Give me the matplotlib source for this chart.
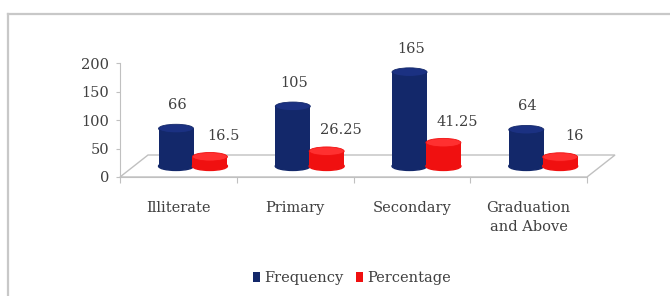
import matplotlib.pyplot as plt
from matplotlib.patches import Ellipse, Polygon, Patch
from matplotlib.lines import Line2D

categories = ["Illiterate", "Primary", "Secondary", "Graduation\nand Above"]
frequency = [66, 105, 165, 64]
percentage = [16.5, 26.25, 41.25, 16]
series_names = ["Frequency", "Percentage"]
yticks = [0, 50, 100, 150, 200]

navy = "#13286a"
navy_top = "#1b3182"
red = "#f01010"
red_top = "#ff3030"
text_col = "#404040"
grid_col = "#c0c0c0"

plt.rcParams["font.family"] = "DejaVu Serif"
plt.rcParams["font.size"] = 10.5

fig = plt.figure(figsize=(6.7, 2.96), dpi=100)
ax = fig.add_axes([120 / 670, 1 - 177 / 296, 467 / 670, 114 / 296])

# chart border (top and left only are visible in the reference)
fig.add_artist(Line2D([8 / 670, 1], [1 - 14 / 296] * 2, color="#c8c8c8", lw=1.6))
fig.add_artist(Line2D([8 / 670] * 2, [0, 1 - 14 / 296], color="#c8c8c8", lw=1.6))

# 3d-ish floor
depth_x = 0.24
depth_y = 38.6
floor = Polygon([(-0.5, 0), (3.5, 0), (3.5 + depth_x, depth_y), (-0.5 + depth_x, depth_y)],
                closed=True, facecolor="white", edgecolor=grid_col, lw=1.0,
                clip_on=False, zorder=1)
ax.add_patch(floor)

base = 19
bw = 0.30
cap_h = 15


def cylinder(x, value, color, top_color, z):
    ax.add_patch(Ellipse((x, base), bw, cap_h, color=color, zorder=z))
    ax.bar(x, value, width=bw, bottom=base, color=color, zorder=z)
    ax.add_patch(Ellipse((x, base + value), bw, cap_h, facecolor=top_color,
                         edgecolor=color, lw=0.6, zorder=z))


for i, v in enumerate(frequency):
    cylinder(i - 0.02, v, navy, navy_top, 3)
    ax.annotate(f"{v:g}", (i - 0.02, base + v), xytext=(1, 17), textcoords="offset points",
                ha="center", va="center", color=text_col)

for i, v in enumerate(percentage):
    cylinder(i + 0.27, v, red, red_top, 4)
    ax.annotate(f"{v:g}", (i + 0.27, base + v), xytext=(10, 15), textcoords="offset points",
                ha="center", va="center", color=text_col)

ax.set_xlim(-0.5, 3.5)
ax.set_ylim(0, 200)
ax.set_yticks(yticks)
ax.tick_params(axis="y", length=3, color=grid_col, pad=5, labelcolor=text_col)

ax.set_xticks([i - 0.5 for i in range(len(categories) + 1)])
ax.set_xticklabels([])
ax.set_xticks(range(len(categories)), minor=True)
ax.set_xticklabels(categories, minor=True, color=text_col, linespacing=1.5)
ax.tick_params(axis="x", which="major", length=4, color=grid_col)
ax.tick_params(axis="x", which="minor", length=0, pad=17)

for s in ["top", "right"]:
    ax.spines[s].set_visible(False)
for s in ["left", "bottom"]:
    ax.spines[s].set_color(grid_col)
ax.patch.set_visible(False)

handles = [Patch(facecolor=navy), Patch(facecolor=red)]
leg = fig.legend(handles, series_names, loc="center", bbox_to_anchor=(352 / 670, 1 - 278 / 296),
                 ncol=2, frameon=False, handlelength=0.45, handleheight=0.7,
                 handletextpad=0.3, columnspacing=0.9)
for t in leg.get_texts():
    t.set_color(text_col)

fig.savefig("out.png", dpi=100, facecolor="white")
